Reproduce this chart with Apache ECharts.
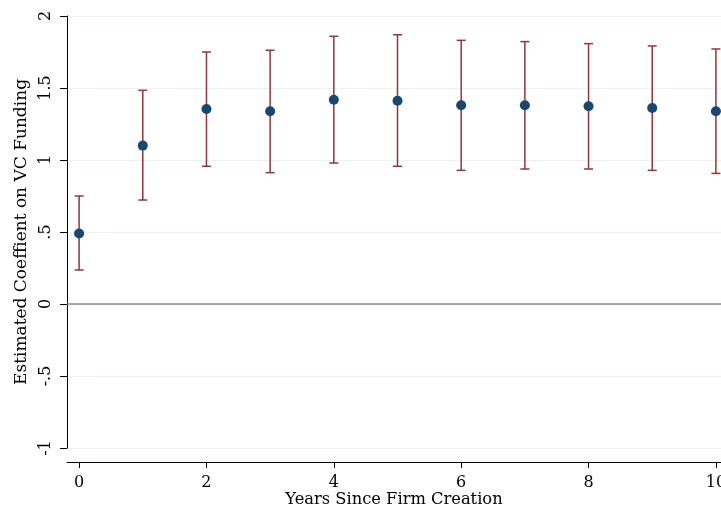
<!DOCTYPE html>
<html>
<head>
<meta charset="utf-8">
<script src="https://cdn.jsdelivr.net/npm/echarts@6/dist/echarts.min.js"></script>
<style>
html,body{margin:0;padding:0;background:#fff;}
#chart{width:721px;height:510px;}
</style>
</head>
<body>
<div id="chart"></div>
<script>
// years since firm creation, point estimates and 95% CI bounds
var years = [0, 1, 2, 3, 4, 5, 6, 7, 8, 9, 10];
var coef  = [0.49, 1.10, 1.354, 1.338, 1.419, 1.412, 1.38, 1.38, 1.373, 1.361, 1.338];
var upper = [0.75, 1.484, 1.75, 1.762, 1.859, 1.87, 1.831, 1.822, 1.808, 1.792, 1.771];
var lower = [0.236, 0.722, 0.956, 0.912, 0.979, 0.956, 0.928, 0.9375, 0.9375, 0.928, 0.907];
var xTicks = [0, 2, 4, 6, 8, 10];
var yTicks = [-1, -0.5, 0, 0.5, 1, 1.5, 2];

var fontFam = '"DejaVu Serif", "Liberation Serif", serif';

var ciData = [];
for (var i = 0; i < years.length; i++) {
  ciData.push([years[i], lower[i], upper[i]]);
}
var ptData = [];
for (var i = 0; i < years.length; i++) {
  ptData.push([years[i], coef[i]]);
}

function fmtY(v) {
  // stata style: .5, -.5
  return String(v).replace('0.', '.');
}

var myChart = echarts.init(document.getElementById('chart'));
var option = {
  animation: false,
  backgroundColor: '#fff',
  grid: { left: 67, right: 0, top: 16, bottom: 62, outerBoundsMode: 'none' },
  xAxis: {
    type: 'value',
    min: -0.19,
    max: 10.08,
    offset: 14,
    name: 'Years Since Firm Creation',
    nameLocation: 'middle',
    nameGap: 30,
    nameMoveOverlap: false,
    nameTextStyle: { fontFamily: fontFam, fontSize: 16.3, color: '#000' },
    axisLine: { show: true, onZero: false, lineStyle: { color: '#000', width: 1 } },
    axisTick: { show: true, length: 6, customValues: xTicks, lineStyle: { color: '#000' } },
    axisLabel: { customValues: xTicks, fontFamily: fontFam, fontSize: 16, color: '#000', margin: 13 },
    splitLine: { show: false }
  },
  yAxis: {
    type: 'value',
    min: -1,
    max: 2,
    name: 'Estimated Coeffient on VC Funding',
    nameLocation: 'middle',
    nameGap: 37,
    nameMoveOverlap: false,
    nameTextStyle: { fontFamily: fontFam, fontSize: 17, color: '#000' },
    axisLine: { show: true, onZero: false, lineStyle: { color: '#000', width: 1 } },
    axisTick: { show: true, length: 7, customValues: yTicks, lineStyle: { color: '#000' } },
    axisLabel: {
      customValues: yTicks, rotate: 90, fontFamily: fontFam, fontSize: 16, color: '#000', margin: 13,
      formatter: fmtY
    },
    splitLine: { show: true, lineStyle: { color: '#eaf2f3', width: 1 } }
  },
  series: [
    {
      type: 'custom',
      name: 'ci',
      data: ciData,
      z: 2,
      renderItem: function (params, api) {
        var x = api.value(0);
        var lo = api.coord([x, api.value(1)]);
        var hi = api.coord([x, api.value(2)]);
        var w = 4.5;
        var st = { stroke: '#90353b', lineWidth: 1.5 };
        return {
          type: 'group',
          children: [
            { type: 'line', shape: { x1: lo[0], y1: lo[1], x2: hi[0], y2: hi[1] }, style: st },
            { type: 'line', shape: { x1: lo[0] - w, y1: lo[1], x2: lo[0] + w, y2: lo[1] }, style: st },
            { type: 'line', shape: { x1: hi[0] - w, y1: hi[1], x2: hi[0] + w, y2: hi[1] }, style: st }
          ]
        };
      },
      markLine: {
        silent: true,
        symbol: 'none',
        label: { show: false },
        lineStyle: { color: '#8c8c8c', width: 1.5, type: 'solid' },
        data: [{ yAxis: 0 }]
      }
    },
    {
      type: 'scatter',
      name: 'coef',
      data: ptData,
      z: 3,
      symbol: 'circle',
      symbolSize: 10,
      itemStyle: { color: '#1a476f', opacity: 1 }
    }
  ]
};
myChart.setOption(option);
</script>
</body>
</html>
